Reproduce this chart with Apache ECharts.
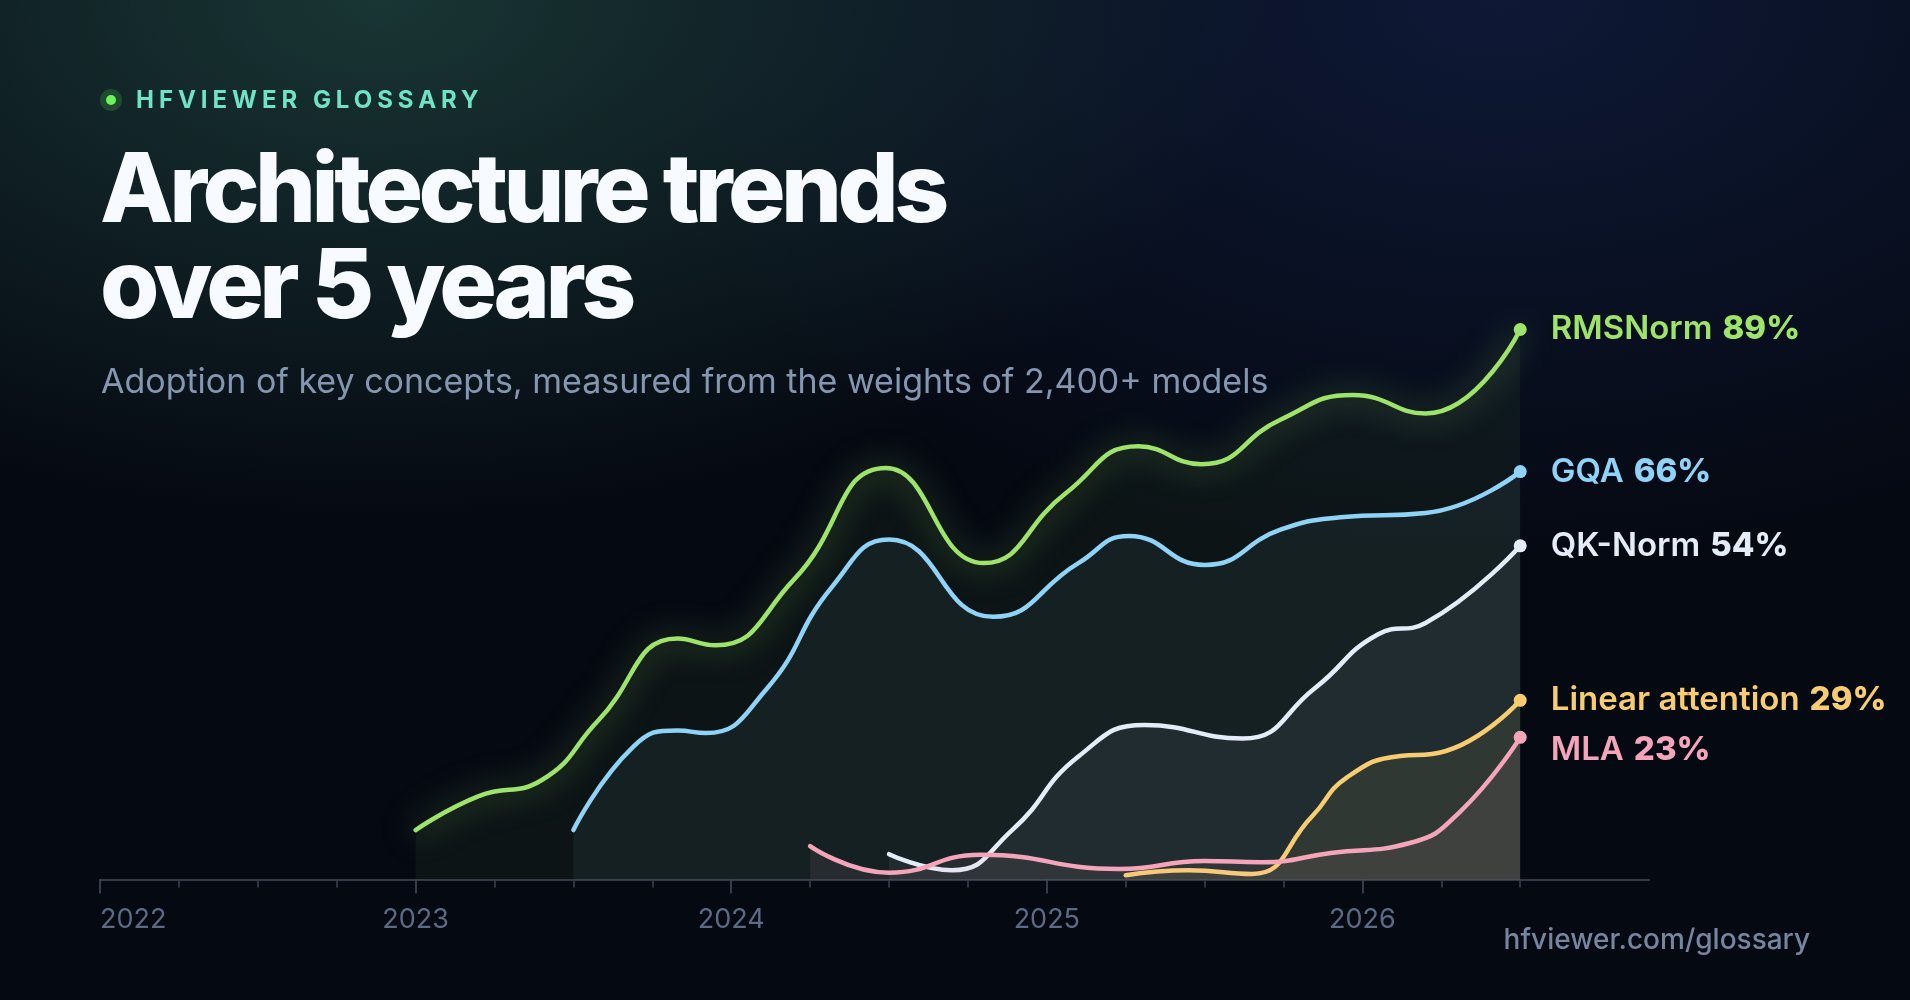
<!DOCTYPE html>
<html>
<head>
<meta charset="utf-8">
<title>Architecture trends over 5 years</title>
<script src="https://cdn.jsdelivr.net/npm/echarts@6/dist/echarts.min.js"></script>
<style>
  html, body { margin: 0; padding: 0; }
  body {
    width: 1910px; height: 1000px; overflow: hidden; position: relative;
    font-family: Inter, "Noto Sans", sans-serif;
    background:
      radial-gradient(ellipse 900px 520px at 380px 0px, rgba(32, 68, 64, 0.75), rgba(32, 68, 64, 0) 100%),
      radial-gradient(ellipse 900px 560px at 1500px 0px, rgba(22, 38, 84, 0.55), rgba(22, 38, 84, 0) 100%),
      #050912;
  }
  #main { position: absolute; left: 0; top: 0; width: 1910px; height: 1000px; }
  .dot {
    position: absolute; left: 106px; top: 95px; width: 10px; height: 10px; border-radius: 50%;
    background: #6df25a; box-shadow: 0 0 0 6px rgba(70, 170, 70, 0.28);
  }
  .eyebrow {
    position: absolute; left: 136px; top: 88px; font-size: 24px; line-height: 24px;
    font-weight: 700; letter-spacing: 0.207em; color: #6fe3c6;
  }
  .title {
    position: absolute; left: 100px; top: 139px; font-size: 96px; line-height: 96px;
    font-weight: 800; letter-spacing: -0.047em; color: #f7faff;
  }
  .subtitle {
    position: absolute; left: 101px; top: 364px; font-size: 34px; line-height: 34px;
    font-weight: 400; color: #8496b0;
  }
  .footer {
    position: absolute; right: 100px; top: 925px; font-size: 28px; line-height: 28px;
    font-weight: 500; color: #7686a0;
  }
</style>
</head>
<body>
<div id="main"></div>
<div class="dot"></div>
<div class="eyebrow">HFVIEWER GLOSSARY</div>
<div class="title">Architecture trends<br>over 5 years</div>
<div class="subtitle">Adoption of key concepts, measured from the weights of 2,400+ models</div>
<div class="footer">hfviewer.com/glossary</div>
<script>
// adoption share (%), [year, value]
var rmsnorm = [[2023.00, 8.0], [2023.20, 13.5], [2023.40, 16.1], [2023.58, 25.8], [2023.83, 39.0],
  [2023.95, 37.9], [2024.20, 48.6], [2024.49, 66.6], [2024.80, 51.2], [2025.06, 62.5],
  [2025.29, 70.1], [2025.49, 67.2], [2025.74, 74.4], [2025.97, 78.4], [2026.20, 75.4],
  [2026.50, 89.0]];
var gqa = [[2023.50, 8.0], [2023.69, 21.5], [2023.83, 24.1], [2023.92, 23.7], [2024.11, 30.7],
  [2024.32, 47.4], [2024.50, 55.0], [2024.83, 42.5], [2025.10, 51.2], [2025.26, 55.6],
  [2025.50, 50.9], [2025.74, 56.6], [2025.93, 58.6], [2026.20, 59.3], [2026.50, 66.0]];
var qkNorm = [[2024.50, 4.1], [2024.70, 1.5], [2024.89, 8.0], [2025.10, 19.9], [2025.31, 25.0],
  [2025.62, 22.8], [2025.85, 31.0], [2026.05, 39.7], [2026.20, 41.5], [2026.50, 54.0]];
var linearAttn = [[2025.25, 0.7], [2025.45, 1.5], [2025.65, 0.9], [2025.84, 10.2], [2025.95, 16.5],
  [2026.12, 20.0], [2026.22, 20.3], [2026.50, 29.0]];
var mla = [[2024.25, 5.4], [2024.50, 1.1], [2024.79, 4.0], [2025.23, 1.7], [2025.50, 3.0],
  [2025.68, 2.8], [2025.90, 4.3], [2026.15, 5.9], [2026.31, 11.0], [2026.50, 23.0]];

var yearTicks = [2022, 2023, 2024, 2025, 2026];
var quarterTicks = [2022.25, 2022.5, 2022.75, 2023.25, 2023.5, 2023.75, 2024.25, 2024.5, 2024.75,
  2025.25, 2025.5, 2025.75, 2026.25, 2026.5];

var concepts = [
  { name: 'RMSNorm', data: rmsnorm, color: '#9ee36a', area: 'rgba(158,227,106,0.07)', glow: true },
  { name: 'GQA', data: gqa, color: '#8fd3f7', area: 'rgba(143,211,247,0.095)' },
  { name: 'QK-Norm', data: qkNorm, color: '#e4ecf7', area: 'rgba(228,236,247,0.085)' },
  { name: 'Linear attention', data: linearAttn, color: '#f8cd72', area: 'rgba(248,205,114,0.11)' },
  { name: 'MLA', data: mla, color: '#f5a5ba', area: 'rgba(245,165,186,0.11)', shift: 13 }
];

var chart = echarts.init(document.getElementById('main'), null, { renderer: 'canvas' });

var series = concepts.map(function (c, i) {
  return {
    name: c.name,
    type: 'line',
    data: c.data,
    smooth: 0.5,
    symbol: 'none',
    z: 2 + i,
    lineStyle: {
      color: c.color, width: 4.5, cap: 'round',
      shadowBlur: c.glow ? 32 : 0,
      shadowColor: c.glow ? 'rgba(158,227,106,0.6)' : 'transparent'
    },
    areaStyle: { color: c.area },
    emphasis: { disabled: true }
  };
});

// end dots + labels
series.push({
  type: 'scatter',
  z: 20,
  symbolSize: 13,
  itemStyle: { opacity: 1 },
  data: concepts.map(function (c) {
    var last = c.data[c.data.length - 1];
    return {
      value: last,
      itemStyle: { color: c.color, opacity: 1 },
      label: {
        show: true,
        position: 'right',
        distance: 24,
        offset: [0, c.shift || 0],
        formatter: '{n|' + c.name + '}{p|' + Math.round(last[1]) + '%}',
        rich: {
          n: { color: c.color, fontSize: 33, fontWeight: 600, fontFamily: 'Inter' },
          p: { color: c.color, fontSize: 33, fontWeight: 800, fontFamily: 'Inter', padding: [0, 0, 0, 10] }
        }
      }
    };
  }),
  emphasis: { disabled: true }
});

chart.setOption({
  animation: false,
  backgroundColor: 'transparent',
  grid: { left: 100, right: 261, top: 261.5, bottom: 120.5 },
  xAxis: [{
    type: 'value', min: 2022, max: 2026.908,
    axisLine: { lineStyle: { color: '#333946', width: 2 } },
    axisTick: { customValues: yearTicks, length: 14, lineStyle: { color: '#464d5c', width: 1.5 } },
    axisLabel: {
      customValues: yearTicks, formatter: function (v) { return String(v); },
      color: '#5d6a84', fontSize: 27, fontFamily: 'Inter', margin: 27, alignMinLabel: 'left'
    },
    splitLine: { show: false }
  }, {
    type: 'value', min: 2022, max: 2026.908, position: 'bottom', offset: 0,
    axisLine: { show: false },
    axisTick: { customValues: quarterTicks, length: 8, lineStyle: { color: '#3a404d', width: 1.5 } },
    axisLabel: { show: false },
    splitLine: { show: false }
  }],
  yAxis: { type: 'value', min: 0, max: 100, show: false, splitLine: { show: false } },
  series: series
});
</script>
</body>
</html>
